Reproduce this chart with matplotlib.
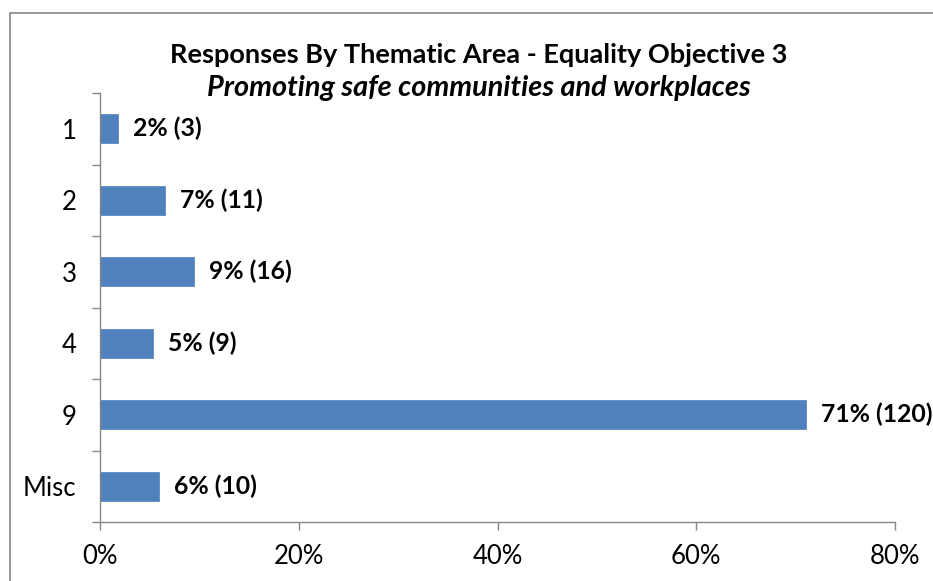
import matplotlib
matplotlib.use("Agg")
import matplotlib.pyplot as plt
from matplotlib.patches import Rectangle

# categories top to bottom, and response counts
categories = ["1", "2", "3", "4", "9", "Misc"]
counts = [3, 11, 16, 9, 120, 10]
pct_labels = ["2%", "7%", "9%", "5%", "71%", "6%"]
x_ticks = [0, 20, 40, 60, 80]

total = sum(counts)
shares = [c / total * 100 for c in counts]

plt.rcParams["font.family"] = ["Lato", "DejaVu Sans"]
axis_grey = "#868686"
bar_blue = "#4F81BD"

fig = plt.figure(figsize=(9.33, 5.81), dpi=100)
W, H = 933, 581
ax = fig.add_axes([100 / W, 1 - 522 / H, (895 - 100) / W, (522 - 93) / H])

ypos = list(range(len(categories)))
ax.barh(ypos, shares, height=0.4, color=bar_blue, edgecolor="#5B8BC6", linewidth=0.6)
ax.set_ylim(len(categories) - 0.5, -0.5)
ax.set_xlim(0, 80)

for y, v, lab, c in zip(ypos, shares, pct_labels, counts):
    ax.annotate(f"{lab} ({c})", (v, y), xytext=(11, 0), textcoords="offset points",
                va="center", ha="left", fontsize=17.8, fontweight="bold", color="black")

ax.set_yticks(ypos)
ax.set_yticklabels(categories, fontsize=18.5)
ax.set_yticks([i - 0.5 for i in range(len(categories) + 1)], minor=True)
ax.tick_params(axis="y", which="major", length=0, pad=17)
ax.tick_params(axis="y", which="minor", length=6, color=axis_grey, width=1)
ax.set_xticks(x_ticks)
ax.set_xticklabels([f"{t}%" for t in x_ticks], fontsize=18.5)
ax.tick_params(axis="x", length=6, color=axis_grey, width=1, pad=10)

for s in ["top", "right"]:
    ax.spines[s].set_visible(False)
for s in ["left", "bottom"]:
    ax.spines[s].set_color(axis_grey)
    ax.spines[s].set_linewidth(1)

fig.text(479 / W, 1 - 55 / H, "Responses By Thematic Area - Equality Objective 3",
         ha="center", va="center", fontsize=19.5, fontweight="bold")
fig.text(479 / W, 1 - 88 / H, "Promoting safe communities and workplaces",
         ha="center", va="center", fontsize=20.8, fontweight="bold", style="italic")

# chart frame, runs off the right and bottom of the image
fig.patches.append(Rectangle((10 / W, -0.1), 1.2, 1 - 13 / H + 0.1, transform=fig.transFigure,
                             fill=False, edgecolor=axis_grey, linewidth=1.2))

fig.savefig("out.png", dpi=100)
